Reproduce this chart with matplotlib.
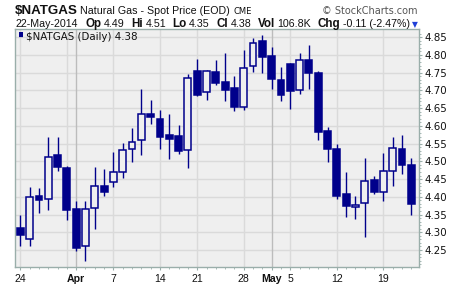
import matplotlib
matplotlib.use('Agg')
import matplotlib.pyplot as plt
from matplotlib.patches import Rectangle
import pandas as pd

# ---------------- data ----------------
dates = ['2014-03-24', '2014-03-25', '2014-03-26', '2014-03-27', '2014-03-28',
         '2014-03-31', '2014-04-01', '2014-04-02', '2014-04-03', '2014-04-04',
         '2014-04-07', '2014-04-08', '2014-04-09', '2014-04-10', '2014-04-11',
         '2014-04-14', '2014-04-15', '2014-04-16', '2014-04-17',
         '2014-04-21', '2014-04-22', '2014-04-23', '2014-04-24', '2014-04-25',
         '2014-04-28', '2014-04-29', '2014-04-30', '2014-05-01', '2014-05-02',
         '2014-05-05', '2014-05-06', '2014-05-07', '2014-05-08', '2014-05-09',
         '2014-05-12', '2014-05-13', '2014-05-14', '2014-05-15', '2014-05-16',
         '2014-05-19', '2014-05-20', '2014-05-21', '2014-05-22']
opens = [4.312, 4.280, 4.403, 4.393, 4.517, 4.482, 4.365, 4.260, 4.368, 4.431,
         4.441, 4.469, 4.534, 4.560, 4.633, 4.620, 4.574, 4.571, 4.531,
         4.755, 4.695, 4.752, 4.724, 4.707, 4.654, 4.768, 4.840, 4.797, 4.730,
         4.775, 4.700, 4.786, 4.749, 4.586, 4.535, 4.408, 4.372, 4.382, 4.447,
         4.413, 4.472, 4.535, 4.490]
highs = [4.349, 4.428, 4.425, 4.569, 4.569, 4.487, 4.388, 4.388, 4.485, 4.479,
         4.527, 4.551, 4.594, 4.703, 4.673, 4.645, 4.634, 4.603, 4.747,
         4.789, 4.758, 4.786, 4.806, 4.741, 4.814, 4.848, 4.855, 4.823, 4.766,
         4.776, 4.806, 4.828, 4.755, 4.597, 4.548, 4.469, 4.402, 4.510, 4.459,
         4.524, 4.569, 4.575, 4.510]
lows = [4.260, 4.260, 4.353, 4.363, 4.474, 4.335, 4.248, 4.220, 4.310, 4.401,
        4.429, 4.454, 4.497, 4.518, 4.604, 4.536, 4.508, 4.522, 4.482,
        4.684, 4.673, 4.714, 4.670, 4.643, 4.645, 4.752, 4.750, 4.705, 4.671,
        4.649, 4.691, 4.704, 4.559, 4.497, 4.395, 4.343, 4.337, 4.288, 4.407,
        4.387, 4.430, 4.463, 4.350]
closes = [4.291, 4.399, 4.392, 4.512, 4.483, 4.364, 4.257, 4.365, 4.431, 4.414,
          4.469, 4.531, 4.554, 4.633, 4.626, 4.570, 4.564, 4.530, 4.734,
          4.686, 4.754, 4.722, 4.702, 4.654, 4.763, 4.833, 4.793, 4.731, 4.688,
          4.697, 4.785, 4.748, 4.584, 4.534, 4.401, 4.375, 4.377, 4.444, 4.413,
          4.472, 4.537, 4.489, 4.380]

xtick_dates = ['2014-03-24', '2014-04-01', '2014-04-07', '2014-04-14', '2014-04-21',
               '2014-04-28', '2014-05-01', '2014-05-05', '2014-05-12', '2014-05-19']
xtick_labels = ['24', 'Apr', '7', '14', '21', '28', 'May', '5', '12', '19']
month_dates = ['2014-04-01', '2014-05-01']
grid_dates = ['2014-03-24', '2014-03-31', '2014-04-07', '2014-04-14', '2014-04-21',
              '2014-04-28', '2014-05-05', '2014-05-12', '2014-05-19']
ytick_values = [4.25, 4.30, 4.35, 4.40, 4.45, 4.50, 4.55, 4.60, 4.65, 4.70, 4.75, 4.80, 4.85]

header_symbol = '$NATGAS'
header_name = 'Natural Gas - Spot Price (EOD)'
header_exch = 'CME'
header_date = '22-May-2014'
header_fields = [('Op', '4.49'), ('Hi', '4.51'), ('Lo', '4.35'), ('Cl', '4.38'),
                 ('Vol', '106.8K'), ('Chg', '-0.11 (-2.47%)')]
legend_text = '$NATGAS (Daily) 4.38'

# ---------------- style ----------------
W, H = 460, 284
NAVY = '#00008b'
BG = '#efefef'
GRID = '#dadada'
GRID_DARK = '#bcbcbc'
BORDER = '#9aaeaa'

fig = plt.figure(figsize=(W / 100, H / 100), dpi=100)
fig.patch.set_facecolor('white')

ax_l, ax_r, ax_t, ax_b = 15.5, 419.3, 28.7, 266.7
ax = fig.add_axes([ax_l / W, 1 - ax_b / H, (ax_r - ax_l) / W, (ax_b - ax_t) / H])
ax.set_facecolor(BG)

idx = {d: i for i, d in enumerate(dates)}
xs = list(range(len(dates)))

# grid
for y in ytick_values:
    ax.axhline(y, color=GRID, lw=1.0, zorder=0)
for d in grid_dates:
    ax.axvline(idx[d], color=GRID, lw=1.0, zorder=0)
for d in month_dates:
    ax.axvline(idx[d], color=GRID_DARK, lw=1.0, zorder=0)

# candles
bw = 0.74
for x, o, h, l, c in zip(xs, opens, highs, lows, closes):
    top, bot = max(o, c), min(o, c)
    ax.plot([x, x], [l, h], color=NAVY, lw=1.0, zorder=2, solid_capstyle='butt')
    face = BG if c >= o else NAVY
    rect = Rectangle((x - bw / 2, bot), bw, max(top - bot, 0.001),
                     facecolor=face, edgecolor=NAVY, lw=1.1, zorder=3)
    ax.add_patch(rect)

ax.set_xlim(-0.52, len(dates) - 1 + 0.86)
ax.set_ylim(4.203, 4.874)

# axes styling
for s in ax.spines.values():
    s.set_color(BORDER)
    s.set_linewidth(1.0)

ax.yaxis.tick_right()
ax.set_yticks(ytick_values)
ax.set_yticklabels([f'{v:.2f}' for v in ytick_values])
ax.set_yticks([4.21 + 0.01 * k for k in range(66)], minor=True)
ax.tick_params(axis='y', which='major', length=2, width=0.8, color=BORDER, pad=1.5,
               labelsize=7.4, labelcolor='#111111')
ax.tick_params(axis='y', which='minor', length=1.5, width=0.6, color=BORDER)
for t in ax.get_yticklabels():
    t.set_family('DejaVu Sans')

ax.set_xticks([idx[d] for d in xtick_dates])
ax.set_xticklabels(xtick_labels)
ax.set_xticks(xs, minor=True)
ax.tick_params(axis='x', which='major', length=2, width=0.8, color=BORDER, pad=3,
               labelsize=7.6, labelcolor='#111111')
ax.tick_params(axis='x', which='minor', length=1.5, width=0.6, color=BORDER)
for t in ax.get_xticklabels():
    t.set_family('Liberation Sans')
    if t.get_text() in ('Apr', 'May'):
        t.set_fontweight('bold')

# legend inside the plot
ax.text(0.026, 0.988, legend_text, transform=ax.transAxes, ha='left', va='top',
        fontsize=7.4, family='DejaVu Sans', color='#111111', zorder=5)
ax.text(0.004, 0.985, '\u2590\u258c', transform=ax.transAxes, ha='left', va='top',
        fontsize=3.8, family='DejaVu Sans', color=NAVY, zorder=5)

# header
def fx(px):
    return px / W

def fy(py):
    return 1 - py / H

fig.text(fx(15), fy(14), header_symbol, family='Liberation Sans', fontweight='bold',
         fontsize=9.6, va='baseline', ha='left', color='#111111')
fig.text(fx(80), fy(14), header_name, family='Liberation Sans', fontsize=7.7,
         va='baseline', ha='left', color='#111111')
fig.text(fx(234), fy(14), header_exch, family='DejaVu Sans', fontsize=6.0,
         va='baseline', ha='left', color='#111111')
fig.text(fx(418), fy(14), '\u00a9 StockCharts.com', family='DejaVu Sans', fontsize=7.0,
         va='baseline', ha='right', color='#555555')

renderer = fig.canvas.get_renderer()
x = 16
t = fig.text(fx(x), fy(27), header_date, family='Liberation Sans', fontsize=7.7,
             va='baseline', ha='left', color='#111111')
x += t.get_window_extent(renderer).width + 7
for lab, val in header_fields:
    t = fig.text(fx(x), fy(27), lab, family='Liberation Sans', fontweight='bold',
                 fontsize=8.4, va='baseline', ha='left', color='#111111')
    x += t.get_window_extent(renderer).width + 2.5
    t = fig.text(fx(x), fy(27), val, family='Liberation Sans', fontsize=7.7,
                 va='baseline', ha='left', color='#111111')
    x += t.get_window_extent(renderer).width + 6.5
fig.text(fx(x - 4.5), fy(27), '\u25bc', family='DejaVu Sans', fontsize=5.5,
         va='baseline', ha='left', color='#2040d8')

fig.savefig('out.png', dpi=100, facecolor='white')
